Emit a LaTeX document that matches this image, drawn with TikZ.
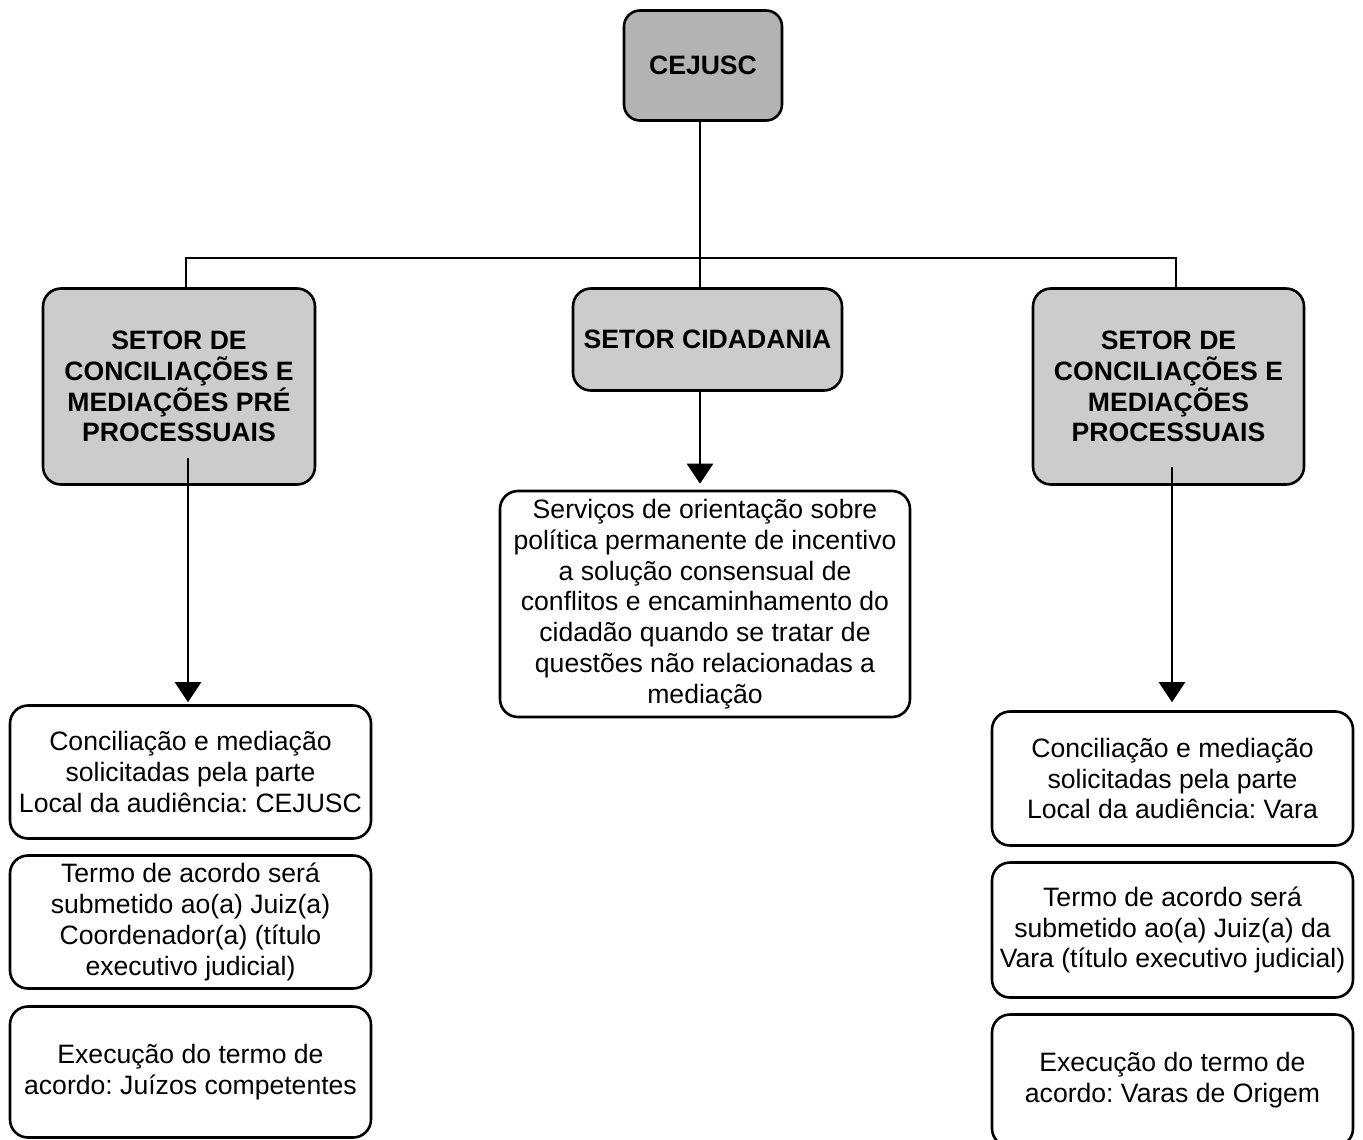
\documentclass[tikz,border=0pt]{standalone}
\usepackage{fontspec}
\setmainfont{Liberation Sans}
\usetikzlibrary{arrows.meta,calc}
\definecolor{greydark}{HTML}{B3B3B3}
\definecolor{greylight}{HTML}{CCCCCC}
\frenchspacing
\begin{document}
\frenchspacing
\begin{tikzpicture}[x=1pt,y=-1pt,
  box/.style={draw=black, line width=2.6pt, rounded corners=18pt, align=center, inner sep=0pt,
    font=\fontsize{26.6}{30.8}\selectfont},
  topbox/.style={box, fill=greydark, rounded corners=16pt, font=\fontsize{26.6}{30.8}\selectfont\bfseries},
  secbox/.style={box, fill=greylight, font=\fontsize{26.6}{30.8}\selectfont\bfseries},
  infobox/.style={box, fill=white},
  conn/.style={draw=black, line width=2.6pt},
  arr/.style={conn, -{Triangle[width=26pt,length=20pt]}}
]
\clip (0,0) rectangle (1363,1140);
\fill[white] (0,0) rectangle (1363,1140);

% bus coordinates
\coordinate (busL) at (186,258);
\coordinate (busM) at (700,258);
\coordinate (busR) at (1176,258);

% connectors of the tree (behind boxes)
\draw[conn] (busM |- 0,120) -- (busM) -- (busM |- 0,290);
\draw[conn] (busL |- 0,290) -- (busL) -- (busR) -- (busR |- 0,290);

% top boxes
\node[topbox, minimum width=158pt, minimum height=110pt] (cejusc) at (703,65.5) {CEJUSC};
\node[secbox, minimum width=272pt, minimum height=196pt] (pre) at (179,386.5)
  {SETOR DE\\CONCILIAÇÕES E\\MEDIAÇÕES PRÉ\\PROCESSUAIS};
\node[secbox, minimum width=269pt, minimum height=102pt] (cid) at (707.5,339.5) {SETOR CIDADANIA};
\node[secbox, minimum width=271pt, minimum height=196pt] (proc) at (1168.5,386.5)
  {SETOR DE\\CONCILIAÇÕES E\\MEDIAÇÕES\\PROCESSUAIS};

% middle info box
\node[infobox, minimum width=410pt, minimum height=226pt] (serv) at (705,604)
  {Serviços de orientação sobre\\política permanente de incentivo\\a solução consensual de\\conflitos e encaminhamento do\\cidadão quando se tratar de\\questões não relacionadas a\\mediação};

% left info boxes
\node[infobox, minimum width=361pt, minimum height=133pt] (pre1) at (190.5,772)
  {Conciliação e mediação\\solicitadas pela parte\\Local da audiência: CEJUSC};
\node[infobox, minimum width=361pt, minimum height=133pt] (pre2) at (190.5,922)
  {Termo de acordo será\\submetido ao(a) Juiz(a)\\Coordenador(a) (título\\executivo judicial)};
\node[infobox, minimum width=361pt, minimum height=131pt] (pre3) at (190.5,1072)
  {Execução do termo de\\acordo: Juízos competentes};

% right info boxes
\node[infobox, minimum width=361pt, minimum height=134pt] (proc1) at (1172.5,778.5)
  {Conciliação e mediação\\solicitadas pela parte\\Local da audiência: Vara};
\node[infobox, minimum width=361pt, minimum height=135pt] (proc2) at (1172.5,930)
  {Termo de acordo será\\submetido ao(a) Juiz(a) da\\Vara (título executivo judicial)};
\node[infobox, minimum width=361pt, minimum height=132pt] (proc3) at (1172.5,1080.5)
  {Execução do termo de\\acordo: Varas de Origem};

% arrows
\coordinate (preStart) at (188,458);
\coordinate (procStart) at (1172,467);
\draw[arr, shorten >=2pt] (preStart) -- (preStart |- pre1.north);
\draw[arr, shorten >=6pt] (busM |- cid.south) -- (busM |- serv.north);
\draw[arr, shorten >=8pt] (procStart) -- (procStart |- proc1.north);
\end{tikzpicture}
\end{document}
